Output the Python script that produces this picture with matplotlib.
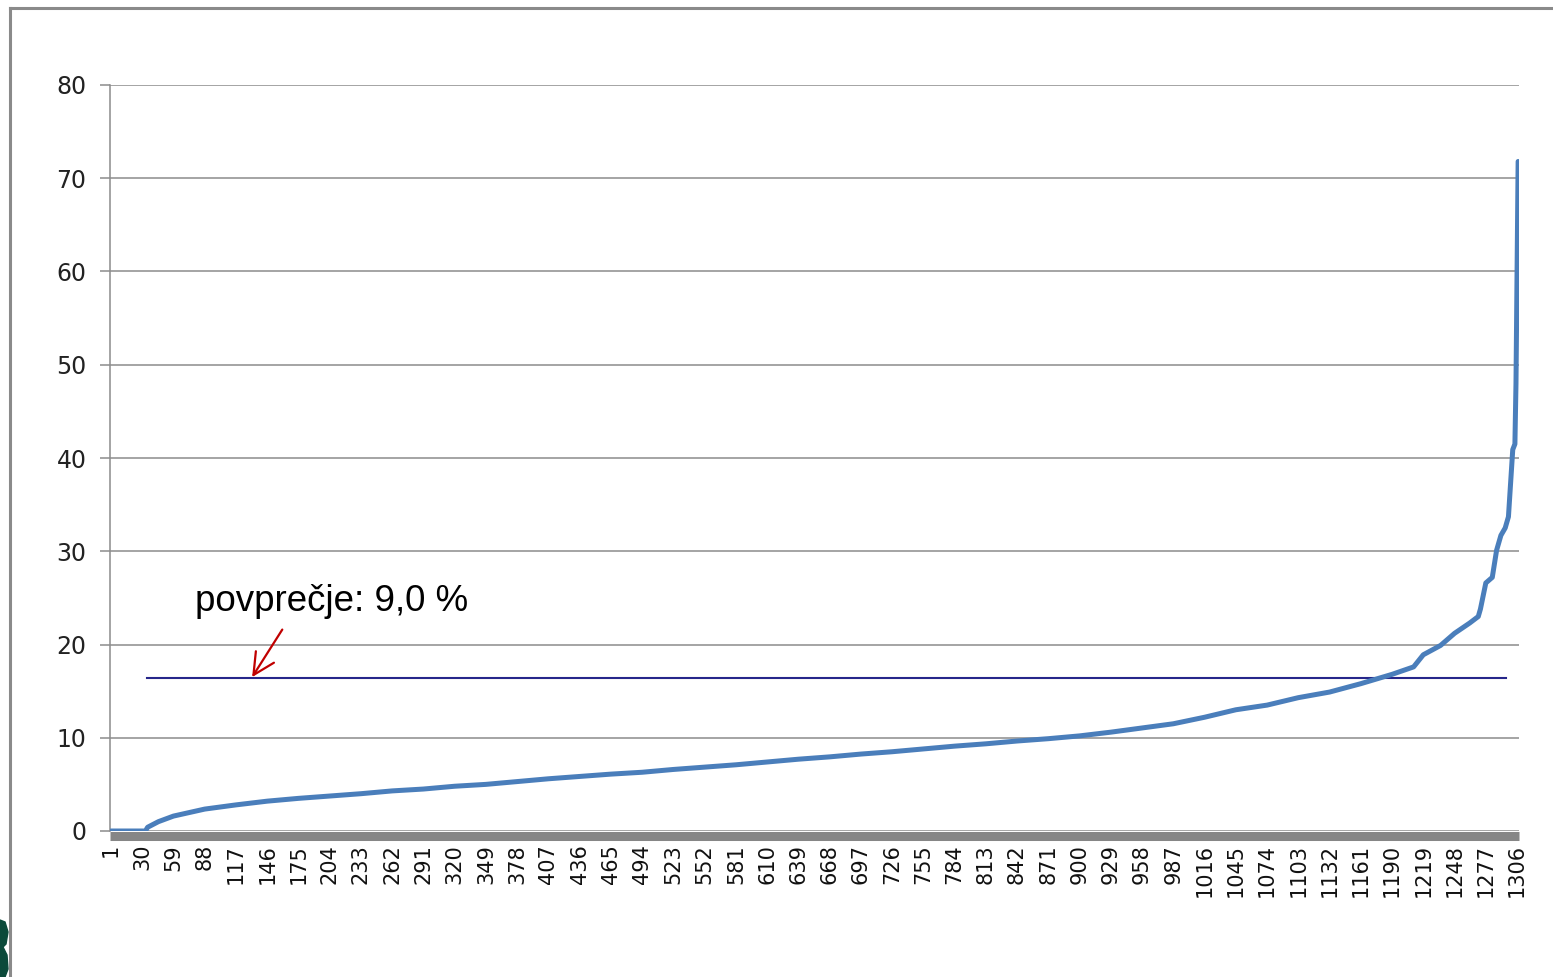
import matplotlib.pyplot as plt
from matplotlib.lines import Line2D
from matplotlib.patches import Polygon

# values (rank -> value)
rank = [1, 30, 33, 35, 45, 59, 88, 117, 146, 175, 204, 233, 262, 291, 320, 349,
        378, 407, 436, 465, 494, 523, 552, 581, 610, 639, 668, 697, 726, 755,
        784, 813, 842, 871, 900, 929, 958, 987, 1016, 1045, 1074, 1103, 1132,
        1161, 1190, 1210, 1219, 1235, 1248, 1262, 1270, 1272, 1277, 1283, 1287,
        1291, 1295, 1298, 1300, 1302, 1304, 1305, 1306, 1307]
share = [0.0, 0.0, 0.0, 0.4, 1.0, 1.6, 2.35, 2.8, 3.2, 3.5, 3.75, 4.0, 4.3, 4.5,
         4.8, 5.0, 5.3, 5.6, 5.85, 6.1, 6.3, 6.6, 6.85, 7.1, 7.4, 7.7, 7.95,
         8.25, 8.5, 8.8, 9.1, 9.35, 9.65, 9.9, 10.2, 10.6, 11.05, 11.5, 12.2,
         13.0, 13.5, 14.3, 14.9, 15.8, 16.8, 17.6, 18.9, 19.9, 21.2, 22.3,
         23.0, 23.8, 26.6, 27.2, 30.1, 31.7, 32.5, 33.7, 37.3, 40.9, 41.5,
         48.0, 60.0, 71.8]

mean_level = 16.4
mean_from, mean_to = 34, 1296
label = "povprečje: 9,0 %"

x_ticks = list(range(1, 1307, 29))
y_ticks = [0, 10, 20, 30, 40, 50, 60, 70, 80]

fig = plt.figure(figsize=(15.53, 9.77), dpi=100)
ax = fig.add_axes([110 / 1553, 146 / 977, 1409 / 1553, 746 / 977])

ax.plot(rank, share, color="#4a7ebb", linewidth=3.6, solid_capstyle="round",
        solid_joinstyle="round", zorder=4)
ax.plot([mean_from, mean_to], [mean_level, mean_level], color="#26268a",
        linewidth=1.5, zorder=3)

ax.annotate("", xy=(132, 16.5), xytext=(160, 21.6),
            arrowprops=dict(arrowstyle="->,head_length=0.7,head_width=0.35",
                            color="#c00000", lw=1.6, mutation_scale=22,
                            shrinkA=0, shrinkB=0))
ax.text(79, 24.6, label, fontsize=26.5, family="Liberation Sans",
        ha="left", va="center")

ax.set_xlim(0.1, 1307.8)
ax.set_ylim(0, 80)
ax.set_yticks(y_ticks)
ax.set_xticks(x_ticks)
ax.set_xticklabels([str(t) for t in x_ticks])
ax.grid(axis="y", color="#8c8c8c", linewidth=1.1)
ax.set_axisbelow(True)

for s in ["top", "right"]:
    ax.spines[s].set_visible(False)
ax.spines["left"].set_color("#8c8c8c")
ax.spines["left"].set_linewidth(1.1)
ax.spines["bottom"].set_color("#868686")
ax.spines["bottom"].set_linewidth(6.5)
ax.spines["bottom"].set_capstyle("butt")
ax.spines["bottom"].set_position(("outward", 3.3))
ax.spines["bottom"].set_zorder(2)

ax.tick_params(axis="y", length=7, width=1.1, color="#8c8c8c", pad=10,
               labelsize=17, labelcolor="#222222")
ax.tick_params(axis="x", length=0, pad=6, labelsize=15, labelcolor="#111111",
               labelrotation=90)

# slide frame and a sliver of the logo
fig.add_artist(Line2D([10 / 1553, 10 / 1553], [0, 1 - 8 / 977],
                      color="#8a8a8a", linewidth=2.2))
fig.add_artist(Line2D([10 / 1553, 1], [1 - 8 / 977, 1 - 8 / 977],
                      color="#8a8a8a", linewidth=2.2))
logo = Polygon([(0, 57 / 977), (5 / 1553, 55 / 977), (8 / 1553, 45 / 977),
                (6 / 1553, 33 / 977), (3 / 1553, 30 / 977), (7 / 1553, 22 / 977),
                (8 / 1553, 8 / 977), (5 / 1553, 0), (0, 0)],
               closed=True, transform=fig.transFigure, color="#0b4a3a")
fig.add_artist(logo)

fig.savefig("out.png", dpi=100)
